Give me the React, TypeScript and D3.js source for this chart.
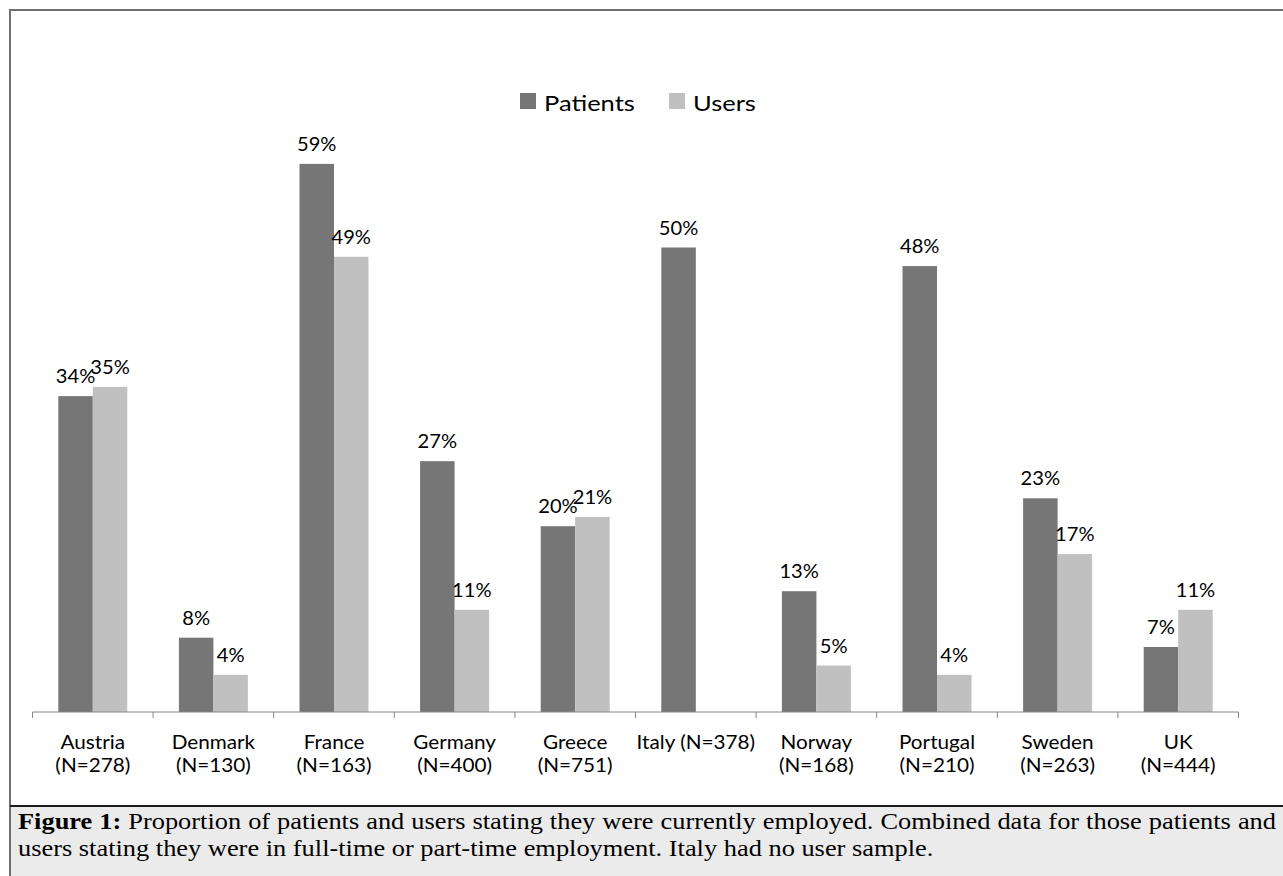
import React, { useEffect, useRef } from "react";
import * as d3 from "d3";

const countries = ["Austria", "Denmark", "France", "Germany", "Greece", "Italy", "Norway", "Portugal", "Sweden", "UK"];
const sampleSizes = ["(N=278)", "(N=130)", "(N=163)", "(N=400)", "(N=751)", "(N=378)", "(N=168)", "(N=210)", "(N=263)", "(N=444)"];
const patients = [34, 8, 59, 27, 20, 50, 13, 48, 23, 7];
const users: (number | null)[] = [35, 4, 49, 11, 21, null, 5, 4, 17, 11];

const seriesNames = ["Patients", "Users"];
const seriesColors = ["#767676", "#c0c0c0"];

const captionLine1 =
  " Proportion of patients and users stating they were currently employed. Combined data for those patients and";
const captionLine2 = "users stating they were in full-time or part-time employment. Italy had no user sample.";

const W = 1283;
const H = 876;
const axisY = 712;
const font = "Lato, 'Open Sans', sans-serif";
const serif = "'Liberation Serif', 'Times New Roman', serif";
const capSx = 1.1; // the printed figure is a bit wider than tall

// text stretched horizontally around its anchor point
const SText: React.FC<{
  x: number;
  y: number;
  sx?: number;
  size: number;
  anchor?: "start" | "middle" | "end";
  family?: string;
  children: React.ReactNode;
}> = ({ x, y, sx = 1, size, anchor = "start", family = font, children }) => (
  <text
    transform={`translate(${x},${y}) scale(${sx},1)`}
    textAnchor={anchor}
    fontFamily={family}
    fontSize={size}
    fill="#000"
  >
    {children}
  </text>
);

const App: React.FC = () => {
  const line1Ref = useRef<SVGTextElement | null>(null);

  // first caption line is justified to the box width
  useEffect(() => {
    const el = line1Ref.current;
    if (!el) return;
    el.setAttribute("word-spacing", "0");
    const natural = el.getComputedTextLength();
    const spaces = ("Figure 1:" + captionLine1).split(" ").length - 1;
    const target = (1276 - 18) / capSx;
    el.setAttribute("word-spacing", String(Math.max(0, (target - natural) / spaces)));
  }, []);

  const x0 = d3.scaleBand().domain(countries).range([32.5, 1238.5]).padding(0);
  const x1 = d3.scaleBand().domain(seriesNames).range([0, x0.bandwidth()]).paddingInner(0).paddingOuter(0.748);
  const y = d3.scaleLinear().domain([0, 70]).range([axisY, axisY - 70 * 9.29]);

  const rows = countries.map((c, i) => ({ c, vals: [patients[i], users[i]] }));
  const ticks = [...countries.map((c) => x0(c)!), x0.range()[1]];

  return (
    <div style={{ position: "absolute", left: 0, top: 0 }}>
      <svg width={W} height={H} style={{ display: "block" }}>
        <rect x={10} y={10} width={W + 20} height={H + 20} fill="#fff" stroke="#6e6e6e" strokeWidth={2} />

        {/* legend */}
        <rect x={520} y={93} width={16} height={16} fill={seriesColors[0]} />
        <SText x={544} y={111} size={22} sx={1.16}>{seriesNames[0]}</SText>
        <rect x={669} y={93} width={16} height={16} fill={seriesColors[1]} />
        <SText x={693} y={111} size={22} sx={1.16}>{seriesNames[1]}</SText>

        {/* bars */}
        {rows.map((r) => (
          <g key={r.c} transform={`translate(${x0(r.c)},0)`}>
            {r.vals.map((v, j) =>
              v == null ? null : (
                <g key={j}>
                  <rect
                    x={x1(seriesNames[j])!}
                    y={y(v)}
                    width={x1.bandwidth()}
                    height={axisY - y(v)}
                    fill={seriesColors[j]}
                  />
                  <SText x={x1(seriesNames[j])! + x1.bandwidth() / 2} y={y(v) - 13} size={19} sx={1.06} anchor="middle">
                    {v}%
                  </SText>
                </g>
              )
            )}
          </g>
        ))}

        {/* x axis */}
        <line x1={x0.range()[0]} x2={x0.range()[1]} y1={axisY} y2={axisY} stroke="#868686" strokeWidth={1} />
        {ticks.map((t, i) => (
          <line key={i} x1={t} x2={t} y1={axisY} y2={axisY + 6} stroke="#868686" strokeWidth={1} />
        ))}
        {countries.map((c, i) => {
          const cx = x0(c)! + x0.bandwidth() / 2;
          if (c === "Italy")
            return (
              <SText key={c} x={cx} y={749} size={18.5} sx={1.12} anchor="middle">
                {c} {sampleSizes[i]}
              </SText>
            );
          return (
            <g key={c}>
              <SText x={cx} y={749} size={18.5} sx={1.12} anchor="middle">{c}</SText>
              <SText x={cx} y={772} size={18.5} sx={1.12} anchor="middle">{sampleSizes[i]}</SText>
            </g>
          );
        })}

        {/* caption */}
        <rect x={10} y={806} width={W + 20} height={H} fill="#ebebeb" stroke="#6e6e6e" strokeWidth={2} />
        <line x1={10} x2={W} y1={806} y2={806} stroke="#000" strokeWidth={1.5} />
        <text
          ref={line1Ref}
          transform={`translate(18,829) scale(${capSx},1)`}
          fontFamily={serif}
          fontSize={24}
          fill="#000"
        >
          <tspan fontWeight="bold">Figure 1:</tspan>
          <tspan>{captionLine1}</tspan>
        </text>
        <SText x={18} y={856} size={24} sx={capSx} family={serif}>{captionLine2}</SText>
      </svg>
    </div>
  );
};

export default App;
